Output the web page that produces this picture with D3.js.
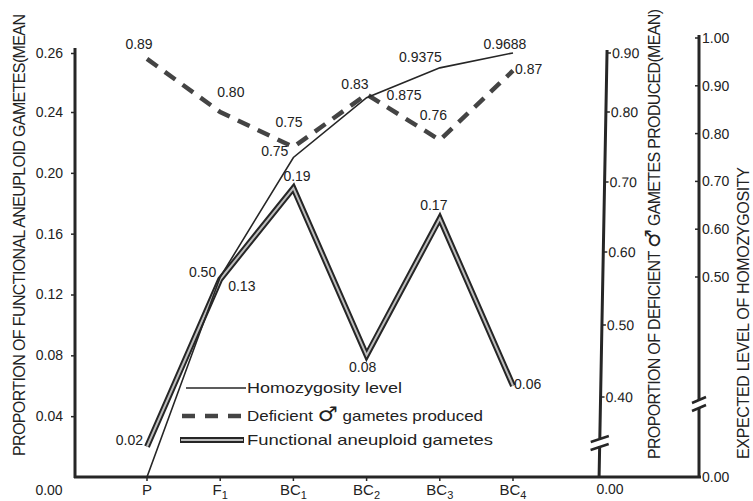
<!DOCTYPE html>
<html><head><meta charset="utf-8">
<script src="https://cdn.jsdelivr.net/npm/d3@7"></script>
<style>
body{margin:0;background:#fff}
svg{display:block}
text{font-family:"Liberation Sans",Arial,sans-serif;fill:#222}
</style>
</head><body>
<svg id="c" width="753" height="501"></svg>
<script>
// ---------------- data ----------------
const categories = ["P", "F1", "BC1", "BC2", "BC3", "BC4"];
const categoryMain = ["P", "F", "BC", "BC", "BC", "BC"];
const categorySub = ["", "1", "1", "2", "3", "4"];
const homozygosity = [0, 0.50, 0.75, 0.875, 0.9375, 0.9688];
const homozygosityLabels = ["", "0.50", "0.75", "0.875", "0.9375", "0.9688"];
const deficient = [0.89, 0.80, 0.75, 0.83, 0.76, 0.87];
const deficientLabels = ["0.89", "0.80", "0.75", "0.83", "0.76", "0.87"];
const functional = [0.02, 0.13, 0.19, 0.08, 0.17, 0.06];
const functionalLabels = ["0.02", "0.13", "0.19", "0.08", "0.17", "0.06"];
const leftTicks = [0.04, 0.08, 0.12, 0.16, 0.20, 0.24, 0.26];
const middleTicks = [0.40, 0.50, 0.60, 0.70, 0.80, 0.90];
const rightTicks = [0.50, 0.60, 0.70, 0.80, 0.90, 1.00];
const legendParts = [["Homozygosity level", "", ""], ["Deficient ", "\u2642", " gametes produced"], ["Functional aneuploid gametes", "", ""]];
const leftTitle = ["PROPORTION OF FUNCTIONAL ANEUPLOID GAMETES(MEAN", "", ""];
const middleTitle = ["PROPORTION OF DEFICIENT ", "\u2642", " GAMETES PRODUCED(MEAN)"];
const rightTitle = ["EXPECTED LEVEL OF HOMOZYGOSITY", "", ""];

// ---------------- layout ----------------
const svg = d3.select("#c");
const baseY = 477;
const x = d3.scalePoint().domain(categories).range([147, 513]);
const yLeft = d3.scaleLinear().domain([0, 0.24, 0.26]).range([baseY, 112, 53]);
const yMid = d3.scaleLinear().domain([0, 0.4, 0.5, 0.6, 0.7, 0.8, 0.9]).range([baseY, 397, 325, 252, 182, 112, 53]);
const yRight = d3.scaleLinear().domain([0, 0.5, 1]).range([baseY, 277, 38]);
const fmt = d3.format(".2f");
const ink = "#262626";
const narrow = "'Liberation Sans Narrow','DejaVu Sans Condensed','Liberation Sans',sans-serif";

// label offsets (layout only): [dx, dy, anchor]
const funcOff = [[-4, -2, "end"], [8, 12, "start"], [-10, -7, "start"], [-4, 17, "middle"], [-6, -8, "middle"], [1, 3, "start"]];
const homOff = [[0, 0, "end"], [-4, 0, "end"], [-5, -2, "end"], [20, 2, "start"], [2, -6, "end"], [-8, -4, "middle"]];
const defOff = [[-8, -10, "middle"], [-3, -15, "start"], [-18, -20, "start"], [2, -5, "end"], [-20, -20, "start"], [2, 3, "start"]];

// ---------------- left axis ----------------
const leftAxis = d3.axisLeft(yLeft).tickValues(leftTicks).tickSize(4).tickSizeOuter(0).tickPadding(8).tickFormat(fmt);
const gL = svg.append("g").attr("transform", "translate(75,0)").call(leftAxis);
gL.select(".domain").attr("stroke", ink).attr("stroke-width", 3).attr("d", `M0,48V${baseY + 1}`);
gL.selectAll(".tick line").attr("stroke", ink).attr("stroke-width", 1.5);
gL.selectAll(".tick text").attr("font-size", 14).attr("font-family", "Liberation Sans, Arial, sans-serif").attr("fill", ink);
svg.append("text").attr("x", 49).attr("y", 495).attr("text-anchor", "middle").attr("font-size", 14).attr("fill", "#555").text(fmt(0));

// ---------------- x axis ----------------
svg.append("line").attr("x1", 74).attr("x2", 701).attr("y1", baseY).attr("y2", baseY)
  .attr("stroke", ink).attr("stroke-width", 3);
svg.selectAll(".xt").data(categories).join("line").attr("class", "xt")
  .attr("x1", d => x(d)).attr("x2", d => x(d)).attr("y1", baseY).attr("y2", baseY + 4)
  .attr("stroke", ink).attr("stroke-width", 1.5);
const xl = svg.selectAll(".xl").data(categories).join("text").attr("class", "xl")
  .attr("x", d => x(d)).attr("y", 495).attr("text-anchor", "middle").attr("font-size", 15);
xl.append("tspan").text((d, i) => categoryMain[i]);
xl.append("tspan").attr("font-size", 11).attr("dy", 4).text((d, i) => categorySub[i]);

// ---------------- middle axis (deficient) ----------------
const skew = -Math.atan(8 / 428) * 180 / Math.PI;
const gM = svg.append("g").attr("transform", `translate(608,0) skewX(${skew})`);
gM.append("path").attr("d", `M0,50V438M0,446V${baseY}`).attr("stroke", ink).attr("stroke-width", 3).attr("fill", "none");
[439, 447].forEach(yb => gM.append("line").attr("x1", -9).attr("x2", 9).attr("y1", yb + 3).attr("y2", yb - 3)
  .attr("stroke", ink).attr("stroke-width", 2.5));
gM.selectAll(".mt").data(middleTicks).join("line").attr("class", "mt")
  .attr("x1", 0).attr("x2", 4).attr("y1", d => yMid(d)).attr("y2", d => yMid(d)).attr("stroke", ink).attr("stroke-width", 1.5);
gM.selectAll(".ml").data(middleTicks).join("text").attr("class", "ml")
  .attr("x", 5).attr("y", d => yMid(d)).attr("dy", "0.35em").attr("font-size", 14).text(fmt);
svg.append("text").attr("x", 610).attr("y", 494).attr("text-anchor", "middle").attr("font-size", 14).attr("fill", "#555").text(fmt(0));

// ---------------- right axis (homozygosity) ----------------
const gR = svg.append("g").attr("transform", "translate(699,0)");
gR.append("path").attr("d", `M0,35V400M0,408V${baseY + 1}`).attr("stroke", ink).attr("stroke-width", 3).attr("fill", "none");
[400, 408].forEach(yb => gR.append("line").attr("x1", -7).attr("x2", 7).attr("y1", yb + 3).attr("y2", yb - 3)
  .attr("stroke", ink).attr("stroke-width", 2.5));
gR.selectAll(".rt").data(rightTicks).join("line").attr("class", "rt")
  .attr("x1", -4).attr("x2", 0).attr("y1", d => yRight(d)).attr("y2", d => yRight(d)).attr("stroke", ink).attr("stroke-width", 1.5);
gR.selectAll(".rl").data(rightTicks.concat([0])).join("text").attr("class", "rl")
  .attr("x", 3).attr("y", d => yRight(d)).attr("dy", "0.35em").attr("font-size", 14).text(fmt);

// ---------------- axis titles ----------------
function title(tx, ty, len, parts) {
  const t = svg.append("text")
    .attr("transform", `translate(${tx},${ty}) rotate(-90)`).attr("font-size", 16)
    .attr("font-family", narrow)
    .attr("textLength", len).attr("lengthAdjust", "spacing");
  t.append("tspan").text(parts[0]);
  if (parts[1]) t.append("tspan").attr("font-size", 21).attr("font-family", "DejaVu Sans").text(parts[1]);
  if (parts[2]) t.append("tspan").text(parts[2]);
}
title(25, 456, 442, leftTitle);
title(660, 459, 450, middleTitle);
title(749, 459, 292, rightTitle);

// ---------------- series ----------------
const lineL = d3.line().x((d, i) => x(categories[i])).y(d => yLeft(d));
const lineM = d3.line().x((d, i) => x(categories[i])).y(d => yMid(d));
const lineR = d3.line().x((d, i) => x(categories[i])).y(d => yRight(d));

svg.append("path").attr("d", lineL(functional)).attr("fill", "none").attr("stroke", ink)
  .attr("stroke-width", 6).attr("stroke-linejoin", "miter");
svg.append("path").attr("d", lineL(functional)).attr("fill", "none").attr("stroke", "#bdbdbd")
  .attr("stroke-width", 2).attr("stroke-linejoin", "miter");
svg.append("path").attr("d", lineM(deficient)).attr("fill", "none").attr("stroke", "#444")
  .attr("stroke-width", 4.5).attr("stroke-dasharray", "13,9");
svg.append("path").attr("d", lineR(homozygosity)).attr("fill", "none").attr("stroke", ink)
  .attr("stroke-width", 1.6);

// ---------------- point labels ----------------
function labels(cls, vals, txts, scale, off) {
  svg.selectAll("." + cls).data(vals).join("text").attr("class", cls)
    .attr("x", (d, i) => x(categories[i]) + off[i][0])
    .attr("y", (d, i) => scale(d) + off[i][1])
    .attr("text-anchor", (d, i) => off[i][2])
    .attr("font-size", 14).text((d, i) => txts[i]);
}
labels("fl", functional, functionalLabels, yLeft, funcOff);
labels("hl", homozygosity, homozygosityLabels, yRight, homOff);
labels("dl", deficient, deficientLabels, yMid, defOff);

// ---------------- legend ----------------
const legY = [388, 416, 440];
svg.append("line").attr("x1", 186).attr("x2", 246).attr("y1", legY[0]).attr("y2", legY[0]).attr("stroke", ink).attr("stroke-width", 1.6);
svg.append("line").attr("x1", 182).attr("x2", 246).attr("y1", legY[1]).attr("y2", legY[1]).attr("stroke", "#444")
  .attr("stroke-width", 4.5).attr("stroke-dasharray", "13,10");
svg.append("line").attr("x1", 180).attr("x2", 244).attr("y1", legY[2]).attr("y2", legY[2]).attr("stroke", ink).attr("stroke-width", 6);
svg.append("line").attr("x1", 181).attr("x2", 243).attr("y1", legY[2]).attr("y2", legY[2]).attr("stroke", "#bdbdbd").attr("stroke-width", 2);
const legLen = [155, 236, 246];
const lg = svg.selectAll(".lg").data(legendParts).join("text").attr("class", "lg")
  .attr("x", 247).attr("y", (d, i) => legY[i] + 5).attr("font-size", 15)
  .attr("textLength", (d, i) => legLen[i]).attr("lengthAdjust", "spacingAndGlyphs");
lg.append("tspan").text(d => d[0]);
lg.filter(d => d[1]).append("tspan").attr("font-size", 20).attr("font-family", "DejaVu Sans").text(d => d[1]);
lg.filter(d => d[2]).append("tspan").text(d => d[2]);
</script>
</body></html>
